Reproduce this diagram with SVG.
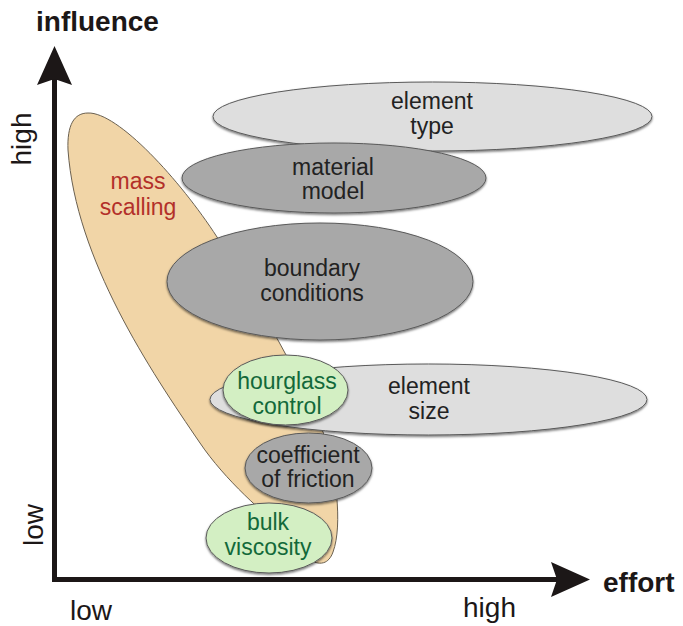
<svg xmlns="http://www.w3.org/2000/svg" width="683" height="626" viewBox="0 0 683 626">
  <style>
    text { font-family: "Liberation Sans", Arial, sans-serif; }
    .lbl { font-size: 23px; fill: #222; text-anchor: middle; }
    .grn { fill: #12693a; }
    .red { fill: #b3302a; }
    .ax { font-size: 28px; fill: #1c1717; }
    .axb { font-size: 28px; font-weight: bold; fill: #1c1717; }
    .light { fill: #dedede; stroke: #5a5a5a; stroke-width: 1; filter: url(#sh); }
    .dark { fill: #a8a8a8; stroke: #5a5a5a; stroke-width: 1; filter: url(#sh); }
    .green { fill: #d3efc3; stroke: #5a5a5a; stroke-width: 1; filter: url(#sh); }
    .tan { fill: #f1d5a7; stroke: #6a6050; stroke-width: 1; }
    .axis { fill: none; stroke: #1c1717; stroke-width: 5; stroke-linejoin: miter; }
  </style>
  <defs>
    <filter id="sh" x="-10%" y="-20%" width="120%" height="150%">
      <feDropShadow dx="0" dy="1.5" stdDeviation="0.9" flood-color="#000" flood-opacity="0.55"/>
    </filter>
    <marker id="head" markerUnits="userSpaceOnUse" viewBox="-32 -18 41 36" refX="0" refY="0" markerWidth="41" markerHeight="36" orient="auto-start-reverse">
      <path d="M8,0 L-31,-17.5 L-25,0 L-31,17.5 Z" fill="#1c1717"/>
    </marker>
  </defs>

  <!-- mass scalling: long tilted blob behind the other nodes -->
  <g id="mass-scalling">
    <path class="tan" d="M88,113 C118,112 180,180 217,237 C254,294 310,395 323,432 C336,469 343,525 333,552 C325,575 300,560 285,530 C265,515 225,480 200,443 C150,370 76,260 68,150 C67,125 74,113 88,113 Z"/>
    <text class="lbl red"><tspan x="138" y="189">mass</tspan><tspan x="138" y="215">scalling</tspan></text>
  </g>

  <g id="element-type">
    <ellipse class="light" cx="432.5" cy="116.5" rx="219.5" ry="34.5"/>
    <text class="lbl"><tspan x="432" y="109">element</tspan><tspan x="432" y="134">type</tspan></text>
  </g>

  <g id="material-model">
    <ellipse class="dark" cx="334" cy="178" rx="152" ry="35"/>
    <text class="lbl"><tspan x="333" y="175">material</tspan><tspan x="333" y="199">model</tspan></text>
  </g>

  <g id="boundary-conditions">
    <ellipse class="dark" cx="320" cy="281.5" rx="153" ry="58.5"/>
    <text class="lbl"><tspan x="312" y="276">boundary</tspan><tspan x="312" y="301">conditions</tspan></text>
  </g>

  <g id="element-size">
    <ellipse class="light" cx="428.5" cy="399.5" rx="218.5" ry="35.5"/>
    <text class="lbl"><tspan x="429" y="394">element</tspan><tspan x="429" y="419">size</tspan></text>
  </g>

  <g id="hourglass-control">
    <ellipse class="green" cx="285.5" cy="390" rx="62.5" ry="35"/>
    <text class="lbl grn"><tspan x="287" y="389">hourglass</tspan><tspan x="287" y="414">control</tspan></text>
  </g>

  <g id="coefficient-of-friction">
    <ellipse class="dark" cx="308.5" cy="468" rx="63.5" ry="35"/>
    <text class="lbl"><tspan x="308" y="463">coefficient</tspan><tspan x="308" y="487">of friction</tspan></text>
  </g>

  <g id="bulk-viscosity">
    <ellipse class="green" cx="269" cy="538" rx="63" ry="35"/>
    <text class="lbl grn"><tspan x="268" y="530">bulk</tspan><tspan x="268" y="555">viscosity</tspan></text>
  </g>

  <!-- axes -->
  <g id="axes">
    <path class="axis" d="M54.5,54 L54.5,579.5 L582,579.5" marker-start="url(#head)" marker-end="url(#head)"/>
  </g>

  <g id="axis-labels">
    <text class="axb" x="36" y="31">influence</text>
    <text class="axb" x="603" y="592" font-size="27">effort</text>
    <text class="ax" x="91" y="620" text-anchor="middle">low</text>
    <text class="ax" x="489.5" y="617" text-anchor="middle">high</text>
    <text class="ax" transform="translate(31 139) rotate(-90)" text-anchor="middle" font-size="26">high</text>
    <text class="ax" transform="translate(43 525) rotate(-90)" text-anchor="middle">low</text>
  </g>
</svg>
